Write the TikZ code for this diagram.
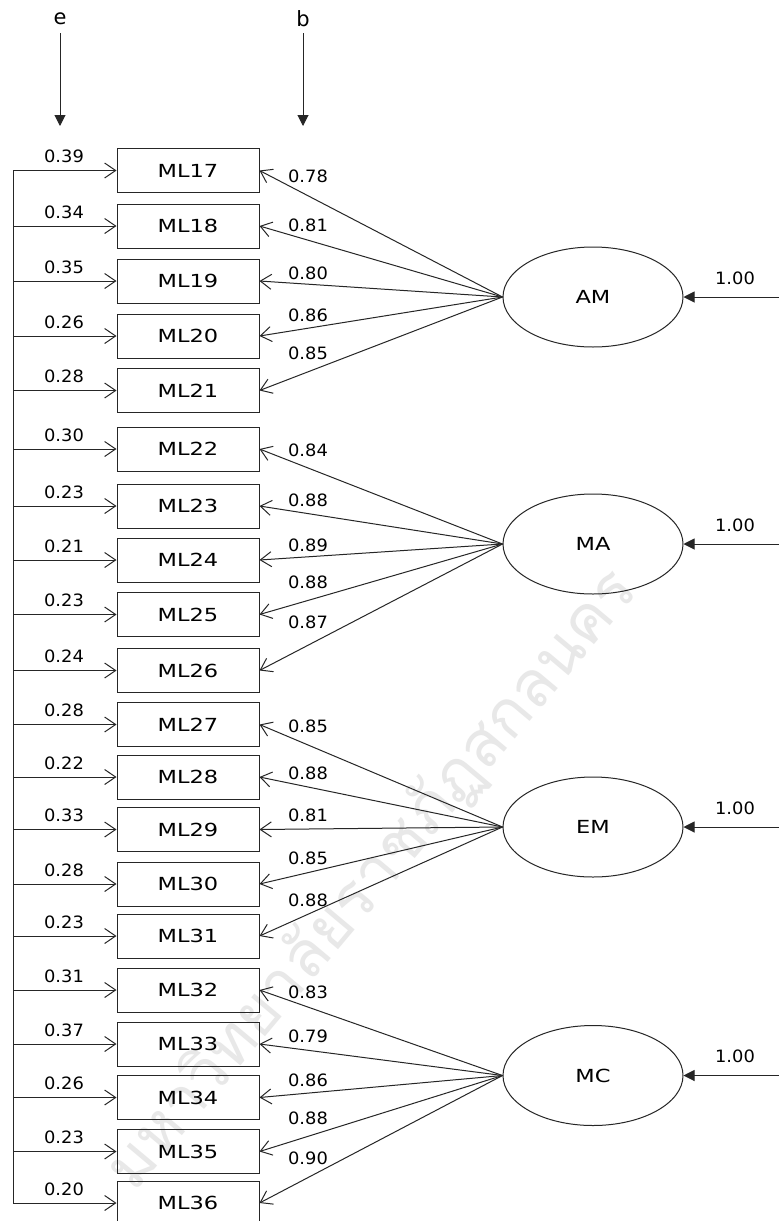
\documentclass[tikz,border=0pt]{standalone}
\usepackage{fontspec}
\setmainfont{DejaVu Sans}
\newfontfamily\numfont{DejaVu Sans}[FakeStretch=1.05]
\newfontfamily\capfont{DejaVu Sans}[FakeStretch=1.25]
\newfontfamily\thaifont[Script=Thai]{Loma}
\usetikzlibrary{arrows.meta,shapes.geometric}
\tikzset{
  ind/.style={draw=black!85, line width=1pt, minimum width=142pt, minimum height=44pt, inner sep=0pt, font=\capfont\fontsize{18}{20}\selectfont},
  lat/.style={draw=black!85, line width=1pt, ellipse, minimum width=180pt, minimum height=100pt, inner sep=0pt, font=\capfont\fontsize{18}{20}\selectfont},
  num/.style={font=\numfont\fontsize{17}{20}\selectfont, inner sep=0pt},
  lowlab/.style={font=\fontsize{21}{22}\selectfont, inner sep=1pt},
  openarr/.style={draw=black!85, line width=1pt, -{Straight Barb[length=11pt,width=15pt,line width=1pt]}},
  fillarr/.style={draw=black!85, line width=1pt, -{Triangle[length=11pt,width=11pt]}},
  plainline/.style={draw=black!85, line width=1pt},
}
\begin{document}
\begin{tikzpicture}[x=1pt,y=-1pt]
\useasboundingbox (0,0) rectangle (779,1221);
\clip (0,0) rectangle (779,1221);
\fill[white] (0,0) rectangle (779,1221);
% watermark
\node[rotate=50, text=black!9, font=\thaifont\fontsize{64}{70}\selectfont, inner sep=0pt] (wm) at (372,880) {มหาวิทยาลัยราชภัฏสกลนคร};
% top labels
\node[lowlab] (e) at (60,19) {e};
\node[lowlab] (b) at (303,19) {b};
\coordinate (eend) at (60,126);
\coordinate (bend) at (303,126);
\draw[fillarr, shorten <=7pt] (e) -- (eend);
\draw[fillarr, shorten <=5pt] (b) -- (bend);
% indicators
\foreach \n/\cy/\ev in {17/170.5/0.39, 18/226/0.34, 19/281/0.35, 20/336/0.26, 21/390.5/0.28,
  22/449/0.30, 23/506/0.23, 24/560/0.21, 25/614.5/0.23, 26/670.5/0.24,
  27/724.5/0.28, 28/777/0.22, 29/829.5/0.33, 30/884/0.28, 31/936/0.23,
  32/990/0.31, 33/1044/0.37, 34/1097.5/0.26, 35/1151.5/0.23, 36/1203/0.20}{
  \node[ind] (ml\n) at (188,\cy) {ML\n};
  \coordinate (s\n) at (13,\cy);
  \draw[openarr] (s\n) -- (ml\n.west);
  \node[num] (ev\n) at (64,\cy-14) {\ev};
}
\draw[plainline] (s17) -- (s36);
% latent variables
\node[lat] (AM) at (593,297) {AM};
\node[lat] (MA) at (593,544) {MA};
\node[lat] (EM) at (593,827) {EM};
\node[lat] (MC) at (593,1075.5) {MC};
\foreach \l in {AM,MA,EM,MC}{
  \coordinate (r\l) at (779,0 |- \l.east);
  \draw[fillarr] (r\l) -- (\l.east);
  \node[num] (one\l) at ([yshift=19pt]\l.east -| 735,0) {1.00};
}
% loadings
\foreach \l/\n/\v/\ly in {AM/17/0.78/176, AM/18/0.81/225, AM/19/0.80/273, AM/20/0.86/315, AM/21/0.85/353,
  MA/22/0.84/450, MA/23/0.88/500, MA/24/0.89/545, MA/25/0.88/582, MA/26/0.87/622,
  EM/27/0.85/726, EM/28/0.88/773, EM/29/0.81/815, EM/30/0.85/858, EM/31/0.88/900,
  MC/32/0.83/992, MC/33/0.79/1036, MC/34/0.86/1080, MC/35/0.88/1118, MC/36/0.90/1158}{
  \draw[openarr] (\l.west) -- (ml\n.east);
  \node[num] (ld\n) at (308,\ly) {\v};
}
\end{tikzpicture}
\end{document}
